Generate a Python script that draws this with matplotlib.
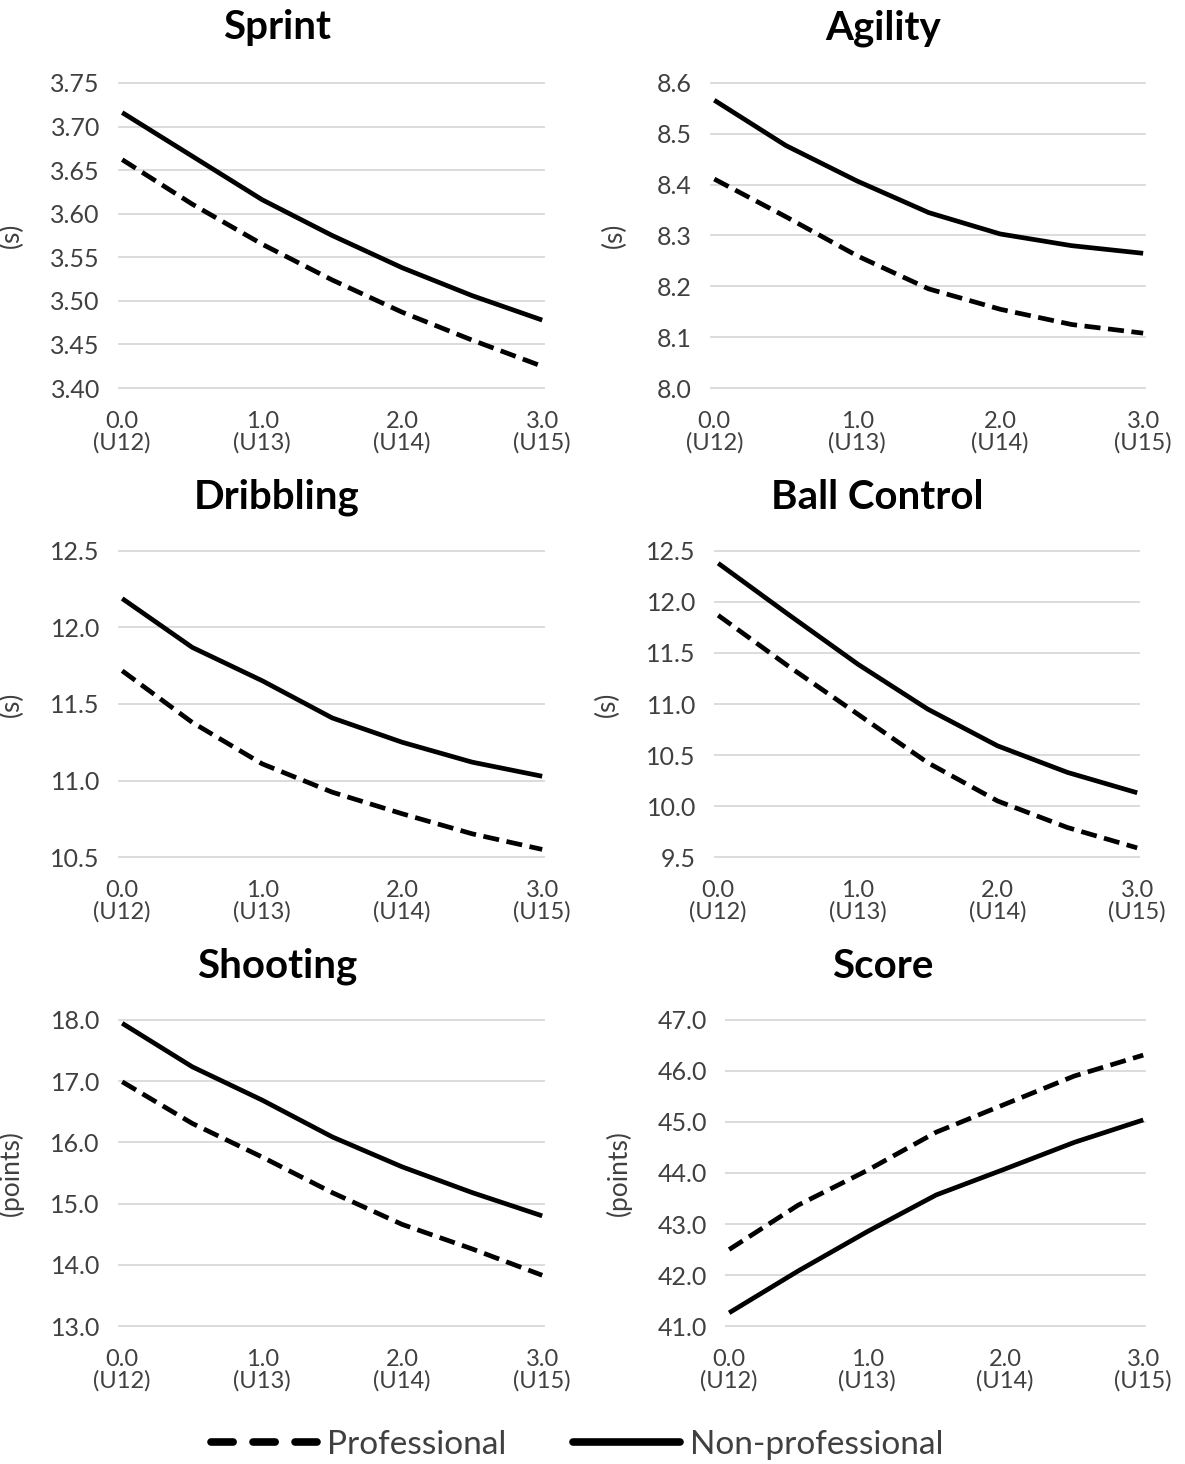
import matplotlib
matplotlib.use("Agg")
import matplotlib.pyplot as plt
from matplotlib.lines import Line2D

plt.rcParams['font.family'] = ['Lato', 'DejaVu Sans']

# years from baseline (age group in brackets)
years = [0.0, 0.5, 1.0, 1.5, 2.0, 2.5, 3.0]
xtick_pos = [0, 1, 2, 3]
xtick_labels = ['0.0\n(U12)', '1.0\n(U13)', '2.0\n(U14)', '3.0\n(U15)']

# modelled trajectories, professional vs non-professional
sprint_pro = [3.662, 3.611, 3.565, 3.524, 3.487, 3.455, 3.425]
sprint_non = [3.716, 3.666, 3.616, 3.575, 3.538, 3.506, 3.478]

agility_pro = [8.411, 8.337, 8.260, 8.195, 8.155, 8.125, 8.108]
agility_non = [8.566, 8.477, 8.407, 8.345, 8.303, 8.280, 8.265]

dribbling_pro = [11.717, 11.380, 11.109, 10.924, 10.783, 10.652, 10.550]
dribbling_non = [12.189, 11.870, 11.652, 11.409, 11.250, 11.120, 11.028]

ballcontrol_pro = [11.869, 11.373, 10.900, 10.425, 10.050, 9.790, 9.590]
ballcontrol_non = [12.379, 11.880, 11.390, 10.950, 10.590, 10.330, 10.130]

shooting_pro = [16.99, 16.31, 15.76, 15.18, 14.66, 14.26, 13.83]
shooting_non = [17.945, 17.235, 16.69, 16.09, 15.60, 15.18, 14.80]

score_pro = [42.50, 43.37, 44.05, 44.80, 45.35, 45.90, 46.31]
score_non = [41.26, 42.08, 42.85, 43.57, 44.08, 44.60, 45.04]

sprint_ticks = [3.40, 3.45, 3.50, 3.55, 3.60, 3.65, 3.70, 3.75]
agility_ticks = [8.0, 8.1, 8.2, 8.3, 8.4, 8.5, 8.6]
dribbling_ticks = [10.5, 11.0, 11.5, 12.0, 12.5]
ballcontrol_ticks = [9.5, 10.0, 10.5, 11.0, 11.5, 12.0, 12.5]
shooting_ticks = [13.0, 14.0, 15.0, 16.0, 17.0, 18.0]
score_ticks = [41.0, 42.0, 43.0, 44.0, 45.0, 46.0, 47.0]

W, H = 1185, 1464
fig = plt.figure(figsize=(W / 100, H / 100), dpi=100)

# panel boxes in pixels: left, right, top, bottom, y-label x, title x, title y
panels = [
    ('Sprint', '(s)', sprint_pro, sprint_non, sprint_ticks, '{:.2f}',
     (118, 545, 82, 389), 24, (277, 28)),
    ('Agility', '(s)', agility_pro, agility_non, agility_ticks, '{:.1f}',
     (710, 1146, 82, 389), 627, (883, 28)),
    ('Dribbling', '(s)', dribbling_pro, dribbling_non, dribbling_ticks, '{:.1f}',
     (118, 545, 550, 858), 24, (277, 497)),
    ('Ball Control', '(s)', ballcontrol_pro, ballcontrol_non, ballcontrol_ticks, '{:.1f}',
     (714, 1140, 550, 858), 620, (877, 497)),
    ('Shooting', '(points)', shooting_pro, shooting_non, shooting_ticks, '{:.1f}',
     (118, 545, 1019, 1327), 24, (277, 966)),
    ('Score', '(points)', score_pro, score_non, score_ticks, '{:.1f}',
     (725, 1146, 1019, 1327), 632, (883, 966)),
]

label_grey = '#404040'

for title, unit, pro, non, ticks, fmt, box, ylab_x, tpos in panels:
    l, r, t, b = box
    ax = fig.add_axes([l / W, 1 - b / H, (r - l) / W, (b - t) / H])
    ax.plot(years, pro, color='black', lw=3.4, linestyle=(0, (3.4, 1.6)))
    ax.plot(years, non, color='black', lw=3.4, solid_capstyle='butt')

    ax.set_xlim(-0.03, 3.02)
    span = ticks[-1] - ticks[0]
    ax.set_ylim(ticks[0] - span * 0.003, ticks[-1] + span * 0.003)
    ax.set_yticks(ticks)
    ax.set_yticklabels([fmt.format(v) for v in ticks])
    ax.set_xticks(xtick_pos)
    ax.set_xticklabels(xtick_labels, linespacing=1.0, fontsize=17)

    ax.grid(axis='y', color='#d9d9d9', lw=1.3)
    ax.set_axisbelow(True)
    for s in ax.spines.values():
        s.set_visible(False)
    ax.tick_params(length=0, labelcolor=label_grey)
    ax.tick_params(axis='y', pad=13, labelsize=18)
    ax.tick_params(axis='x', pad=16)

    ax.set_ylabel(unit, fontsize=19, color=label_grey)
    ax.yaxis.set_label_coords((ylab_x - l) / (r - l), 0.5)

    fig.text(tpos[0] / W, 1 - tpos[1] / H, title, fontsize=29, fontweight='bold',
             ha='center', va='center')

handles = [
    Line2D([], [], color='black', lw=5.5, linestyle=(0, (2.9, 2.6)), dash_capstyle='round'),
    Line2D([], [], color='black', lw=5.5, solid_capstyle='round'),
]
fig.legend(handles, ['Professional', 'Non-professional'], loc='center',
           bbox_to_anchor=(0.487, 1 - 1445 / H), ncol=2, frameon=False,
           fontsize=24, handlelength=3.2, handletextpad=0.3, columnspacing=2.0,
           labelcolor=label_grey)

fig.savefig('out.png', dpi=100, facecolor='white')
